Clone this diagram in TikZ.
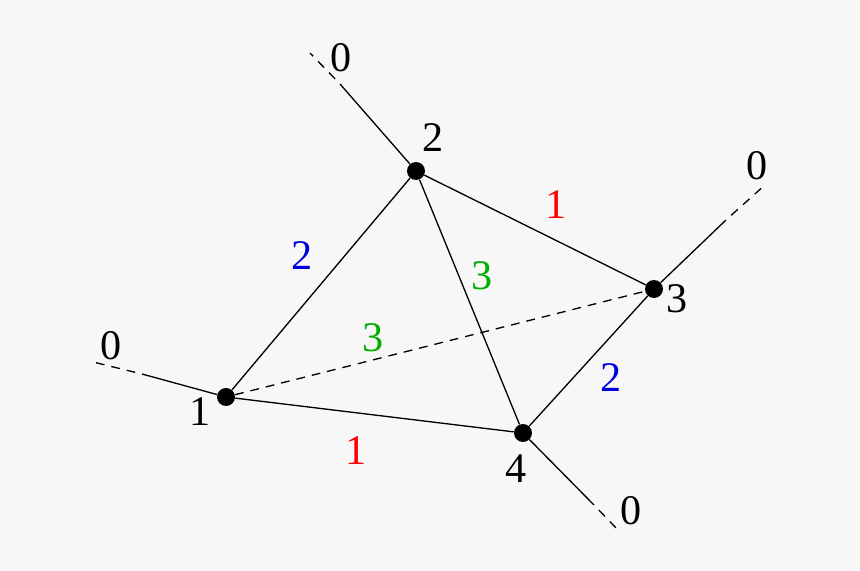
\documentclass[tikz,border=0pt]{standalone}
\usepackage{fontspec}
\setmainfont{Liberation Serif}
\usepackage{tikz}
\usetikzlibrary{positioning}

\definecolor{bg}{RGB}{247,247,247}
\definecolor{labred}{RGB}{255,0,0}
\definecolor{labblue}{RGB}{0,0,220}
\definecolor{labgreen}{RGB}{0,175,0}

\begin{document}
\begin{tikzpicture}[
  x=0.02cm, y=-0.02cm,
  vertex/.style={circle, fill=black, inner sep=0pt, minimum size=3.6mm},
  lbl/.style={font=\fontsize{24}{28}\selectfont, inner sep=0pt},
  edge/.style={line width=0.75pt},
  tail/.style={line width=0.75pt, dash pattern=on 5pt off 4pt}
]
\fill[bg] (0,0) rectangle (860,571);
\useasboundingbox (0,0) rectangle (860,571);

\node[vertex] (v1) at (226,397) {};
\node[vertex] (v2) at (416,171) {};
\node[vertex] (v3) at (654,289) {};
\node[vertex] (v4) at (523,433) {};

% vertex numbers
\node[lbl] (n1) at (200,412) {1};
\node[lbl] (n2) at (433,138) {2};
\node[lbl] (n3) at (677,299) {3};
\node[lbl] (n4) at (516,469) {4};

% outer legs
\coordinate (m1) at (142,374);
\coordinate (e1) at (93,362);
\coordinate (m2) at (340,84);
\coordinate (e2) at (310,53);
\coordinate (m3) at (726,220);
\coordinate (e3) at (766,184);
\coordinate (m4) at (594,505);
\coordinate (e4) at (617,529);

\node[lbl] (z1) at (111,346) {0};
\node[lbl] (z2) at (341,58) {0};
\node[lbl] (z3) at (757,166) {0};
\node[lbl] (z4) at (631,511) {0};

\draw[edge] (v1) -- (v2);
\draw[edge] (v2) -- (v3);
\draw[edge] (v2) -- (v4);
\draw[edge] (v1) -- (v4);
\draw[edge] (v3) -- (v4);
\draw[tail] (v1) -- (v3);

\draw[edge] (v1) -- (m1);
\draw[tail, dash phase=5pt] (m1) -- (e1);
\draw[edge] (v2) -- (m2);
\draw[tail, dash phase=5pt] (m2) -- (e2);
\draw[edge] (v3) -- (m3);
\draw[tail, dash phase=5pt] (m3) -- (e3);
\draw[edge] (v4) -- (m4);
\draw[tail, dash phase=5pt] (m4) -- (e4);

% edge weights
\node[lbl, labred] (w23) at (556,205) {1};
\node[lbl, labblue] (w12) at (302,256) {2};
\node[lbl, labgreen] (w24) at (482,276) {3};
\node[lbl, labgreen] (w13) at (373,338) {3};
\node[lbl, labblue] (w34) at (611,378) {2};
\node[lbl, labred] (w14) at (356,451) {1};
\end{tikzpicture}
\end{document}
